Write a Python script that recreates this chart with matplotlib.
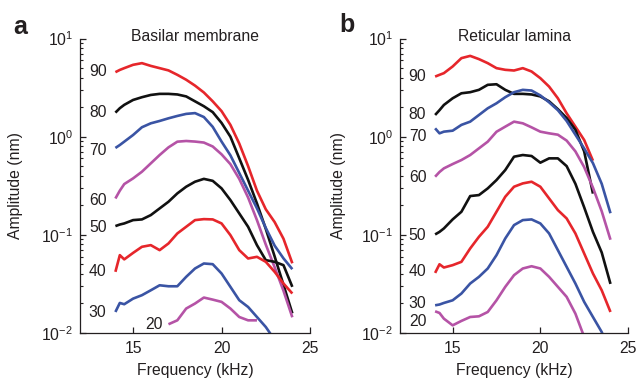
import numpy as np
import matplotlib
matplotlib.use("Agg")
import matplotlib.pyplot as plt

plt.rcParams['font.family'] = ['Liberation Sans', 'DejaVu Sans']
plt.rcParams['mathtext.fontset'] = 'custom'
plt.rcParams['mathtext.rm'] = 'Liberation Sans'
plt.rcParams['mathtext.it'] = 'Liberation Sans:italic'
plt.rcParams['mathtext.bf'] = 'Liberation Sans:bold'

nan = np.nan

# frequency grid (kHz) shared by all curves
freq = [14, 14.25, 14.5, 15, 15.5, 16, 16.5, 17, 17.5, 18, 18.5, 19, 19.5,
        20, 20.5, 21, 21.5, 22, 22.5, 23, 23.5, 24]

# stimulus levels (dB SPL) labelled next to the curves
levels = [90, 80, 70, 60, 50, 40, 30, 20]

# log10 of amplitude (nm)
# a: basilar membrane
bm_90 = [0.657, 0.68, 0.698, 0.732, 0.749, 0.721, 0.698, 0.675, 0.63, 0.58, 0.52,
         0.45, 0.36, 0.26, 0.12, -0.07, -0.30, -0.55, -0.74, -0.87, -1.04, -1.29]
bm_80 = [0.245, 0.29, 0.324, 0.374, 0.402, 0.425, 0.436, 0.436, 0.43, 0.41, 0.36,
         0.31, 0.25, 0.14, 0.0, -0.22, -0.44, -0.68, -0.94, -1.22, -1.51, -1.80]
bm_70 = [-0.115, -0.085, -0.051, 0.017, 0.096, 0.136, 0.160, 0.187, 0.211, 0.232, 0.24,
         0.20, 0.10, -0.05, -0.19, -0.37, -0.55, -0.73, -0.93, -1.11, -1.24, -1.35]
bm_60 = [-0.63, -0.55, -0.483, -0.425, -0.357, -0.272, -0.187, -0.109, -0.051, -0.044, -0.05,
         -0.06, -0.10, -0.18, -0.28, -0.43, -0.62, -0.85, -1.10, -1.33, -1.57, -1.84]
bm_50 = [-0.911, -0.895, -0.884, -0.85, -0.843, -0.799, -0.731, -0.663, -0.578, -0.51, -0.459,
         -0.43, -0.45, -0.527, -0.646, -0.782, -0.918, -1.105, -1.258, -1.275, -1.309, -1.53]
bm_40 = [-1.377, -1.207, -1.25, -1.184, -1.122, -1.105, -1.156, -1.088, -0.986, -0.918, -0.85,
         -0.84, -0.843, -0.884, -1.003, -1.156, -1.241, -1.224, -1.275, -1.377, -1.496, -1.598]
bm_30 = [-1.786, -1.694, -1.707, -1.65, -1.615, -1.565, -1.514, -1.524, -1.524, -1.428, -1.343,
         -1.292, -1.299, -1.394, -1.53, -1.666, -1.735, -1.837, -1.939, -2.07, nan, nan]
bm_20 = [nan, nan, nan, nan, nan, nan, nan, -1.911, -1.871, -1.751, -1.70,
         -1.639, -1.66, -1.683, -1.751, -1.837, -1.871, -1.871, nan, nan, nan, nan]

# b: reticular lamina
rl_90 = [0.612, 0.63, 0.647, 0.715, 0.80, 0.823, 0.79, 0.749, 0.698, 0.681, 0.674,
         0.698, 0.664, 0.596, 0.51, 0.391, 0.238, 0.102, -0.034, -0.245, nan, nan]
rl_80 = [0.221, 0.27, 0.323, 0.391, 0.442, 0.453, 0.477, 0.528, 0.534, 0.477, 0.436,
         0.436, 0.43, 0.41, 0.36, 0.28, 0.19, 0.07, -0.15, -0.58, nan, nan]
rl_70 = [0.085, 0.034, 0.051, 0.061, 0.12, 0.153, 0.221, 0.289, 0.34, 0.402, 0.453,
         0.477, 0.47, 0.42, 0.35, 0.27, 0.16, 0.02, -0.12, -0.27, -0.48, -0.78]
rl_60 = [-0.408, -0.36, -0.323, -0.279, -0.238, -0.187, -0.119, -0.051, 0.05, 0.102, 0.153,
         0.136, 0.095, 0.051, 0.034, 0.02, -0.04, -0.15, -0.31, -0.52, -0.76, -1.05]
rl_50 = [-0.996, -0.97, -0.935, -0.843, -0.765, -0.605, -0.595, -0.527, -0.442, -0.34, -0.204,
         -0.187, -0.197, -0.265, -0.221, -0.221, -0.30, -0.48, -0.72, -0.97, -1.18, -1.50]
rl_40 = [-1.388, -1.30, -1.333, -1.309, -1.275, -1.139, -1.02, -0.918, -0.765, -0.612, -0.51,
         -0.476, -0.459, -0.51, -0.629, -0.748, -0.833, -0.986, -1.19, -1.394, -1.565, -1.786]
rl_30 = [-1.718, -1.71, -1.694, -1.667, -1.598, -1.496, -1.428, -1.343, -1.207, -1.037, -0.901,
         -0.85, -0.843, -0.884, -0.986, -1.156, -1.326, -1.496, -1.683, -1.837, -1.99, -2.2]
rl_20 = [-1.779, -1.796, -1.854, -1.922, -1.877, -1.837, -1.83, -1.786, -1.667, -1.53, -1.411,
         -1.343, -1.32, -1.343, -1.428, -1.53, -1.632, -1.803, -2.04, nan, nan, nan]

# label positions (kHz, log10 nm)
bm_label_x = [13, 13, 13, 13, 13, 13, 13, 16.2]
bm_label_y = [0.66, 0.245, -0.14, -0.646, -0.93, -1.378, -1.79, -1.91]
rl_label_x = [13, 13, 13, 13, 13, 13, 13, 13]
rl_label_y = [0.612, 0.221, 0.0, -0.42, -1.003, -1.378, -1.697, -1.888]

RED = '#e6262b'
BLUE = '#3a54a4'
MAGENTA = '#b553a6'
BLACK = '#111111'
colors = [RED, BLACK, BLUE, MAGENTA, BLACK, RED, BLUE, MAGENTA]
TXT = '#231f20'
FS = 11.3

fig = plt.figure(figsize=(6.37, 3.82), dpi=100)
ax_a = fig.add_axes([0.1256, 0.1283, 0.3611, 0.7709])
ax_b = fig.add_axes([0.628, 0.1283, 0.3579, 0.7709])

panels = [
    (ax_a, [bm_90, bm_80, bm_70, bm_60, bm_50, bm_40, bm_30, bm_20],
     bm_label_x, bm_label_y, 'Basilar membrane', -0.25),
    (ax_b, [rl_90, rl_80, rl_70, rl_60, rl_50, rl_40, rl_30, rl_20],
     rl_label_x, rl_label_y, 'Reticular lamina', -0.236),
]

for ax, curves, lx, ly, title, ylab_x in panels:
    for vals, c in zip(curves, colors):
        ax.plot(freq, 10 ** np.array(vals), color=c, lw=1.9, solid_capstyle='butt')
    for lev, x, y in zip(levels, lx, ly):
        ax.text(x, 10 ** y, str(lev), ha='center', va='center', fontsize=FS, color=TXT)

    ax.set_yscale('log')
    ax.set_xlim(12, 25)
    ax.set_ylim(1e-2, 1e1)
    ax.set_xticks([15, 20, 25])
    ax.spines['top'].set_visible(False)
    ax.spines['right'].set_visible(False)
    for s in ('left', 'bottom'):
        ax.spines[s].set_linewidth(0.9)
        ax.spines[s].set_color(TXT)
    ax.tick_params(which='major', direction='in', length=4, width=0.9, colors=TXT,
                   labelsize=FS, labelcolor=TXT)
    ax.tick_params(axis='y', which='major', pad=5)
    ax.tick_params(axis='x', which='major', pad=6)
    ax.tick_params(which='minor', direction='in', length=2.5, width=0.8, colors=TXT)
    ax.set_xlabel('Frequency (kHz)', fontsize=FS, color=TXT, labelpad=5)
    ax.set_ylabel('Amplitude (nm)', fontsize=FS, color=TXT)
    ax.yaxis.set_label_coords(ylab_x, 0.5)
    ax.text(0.5, 0.99, title, transform=ax.transAxes, ha='center', va='baseline',
            fontsize=FS, color=TXT)

fig.text(20 / 637, 1 - 27 / 382, 'a', fontsize=18, fontweight='bold', color=TXT,
         ha='center', va='center')
fig.text(347 / 637, 1 - 25 / 382, 'b', fontsize=18, fontweight='bold', color=TXT,
         ha='center', va='center')

fig.savefig('out.png', dpi=100)
